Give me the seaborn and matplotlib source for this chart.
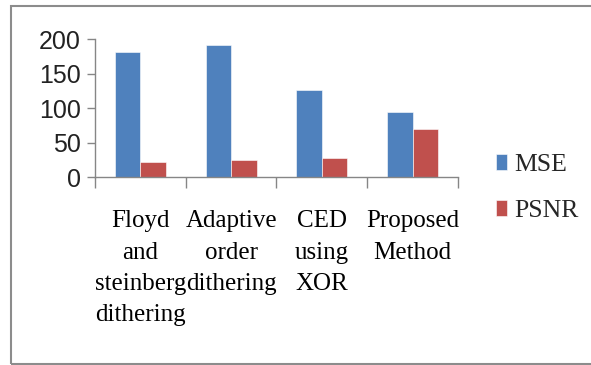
#grouped bar chart of MSE and PSNR for four dithering methods
import pandas as pd
import matplotlib.pyplot as plt
import seaborn as sns
from matplotlib.patches import Rectangle

#values
methods = ["Floyd\nand\nsteinberg\ndithering", "Adaptive\norder\ndithering",
           "CED\nusing\nXOR", "Proposed\nMethod"]
mse = [181, 192, 126, 94]
psnr = [22, 25, 27, 70]
series = ["MSE", "PSNR"]
colors = ["#4F81BD", "#C0504D"]

df = pd.DataFrame({
    "method": methods * 2,
    "value": mse + psnr,
    "metric": ["MSE"] * len(methods) + ["PSNR"] * len(methods),
})

sns.set_theme(style="white")
fig = plt.figure(figsize=(5.91, 3.65), dpi=100)
ax = fig.add_axes([0.1607, 0.515, 0.775 - 0.1607, 0.893 - 0.515])

sns.barplot(data=df, x="method", y="value", hue="metric", hue_order=series,
            palette=colors, width=0.56, saturation=1, ax=ax,
            edgecolor="white", linewidth=0.4)

ax.set_ylim(0, 200)
ax.set_xlim(-0.5, len(methods) - 0.5)
ax.set_yticks([0, 50, 100, 150, 200])
ax.set_xlabel("")
ax.set_ylabel("")

#spines: only left and bottom, gray like excel
for side in ["top", "right"]:
    ax.spines[side].set_visible(False)
for side in ["left", "bottom"]:
    ax.spines[side].set_color("#868686")
    ax.spines[side].set_linewidth(1.0)

ax.tick_params(axis="y", which="major", length=6, width=1, color="#868686",
               direction="out", left=True, pad=4, labelsize=18)
for lab in ax.get_yticklabels():
    lab.set_family("Liberation Sans")
    lab.set_color("#222222")

#category boundary ticks, labels in between
ax.set_xticks([i - 0.5 for i in range(len(methods) + 1)], minor=True)
ax.tick_params(axis="x", which="minor", length=8, width=1, color="#868686",
               direction="out", bottom=True)
ax.tick_params(axis="x", which="major", length=0, pad=24, labelsize=18)
for lab in ax.get_xticklabels():
    lab.set_family("Liberation Serif")
    lab.set_linespacing(1.55)
    lab.set_color("black")

#legend at the right
handles, labels = ax.get_legend_handles_labels()
ax.legend(handles, labels, loc="center left", bbox_to_anchor=(0.80, 0.485),
          bbox_transform=fig.transFigure, frameon=False,
          prop={"family": "Liberation Serif", "size": 18.5},
          handlelength=0.45, handleheight=0.6, handletextpad=0.25,
          labelspacing=0.95)

#outer frame like the pasted chart area
fig.patches.append(Rectangle((11 / 591, 1 / 365), 1.0, 358 / 365,
                             transform=fig.transFigure, fill=False,
                             edgecolor="#8c8c8c", linewidth=1.5))

fig.savefig("out.png", dpi=100)
